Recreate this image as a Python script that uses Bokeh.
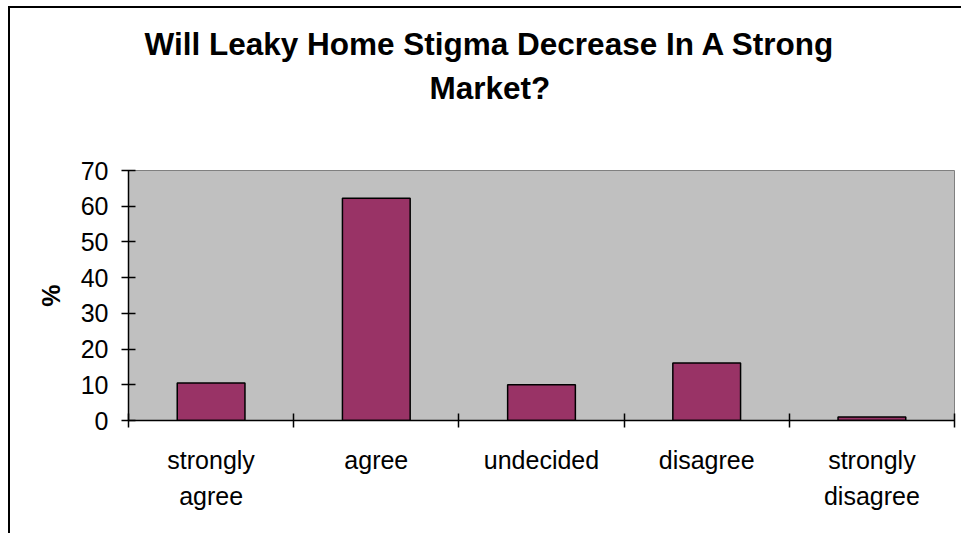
from bokeh.plotting import figure
from bokeh.models import Range1d, FixedTicker, Title
from bokeh.embed import file_html
from bokeh.resources import INLINE

# ---- data ----
categories = ["strongly\nagree", "agree", "undecided", "disagree", "strongly\ndisagree"]
values = [10.5, 62.2, 10.0, 16.1, 1.0]
y_ticks = [0, 10, 20, 30, 40, 50, 60, 70]
title_line1 = "Will Leaky Home Stigma Decrease In A Strong"
title_line2 = "Market?"
y_label = "%"

FONT = "Liberation Sans"

n = len(categories)
centers = [i + 0.5 for i in range(n)]
bounds = list(range(n + 1))

p = figure(
    output_backend="svg", toolbar_location=None,
    frame_width=826, frame_height=250,
    min_border_left=118, min_border_right=7, min_border_top=162, min_border_bottom=113,
    x_range=Range1d(0, n), y_range=Range1d(0, 70),
    title=None,
)
p.styles = {"margin-left": "8px", "margin-top": "6px",
            "border-left": "2px solid #000", "border-top": "2px solid #000"}

p.background_fill_color = "#C0C0C0"
p.border_fill_color = "#FFFFFF"
p.outline_line_color = "#808080"
p.outline_line_width = 1
p.xgrid.visible = False
p.ygrid.visible = False

p.vbar(x=centers, top=values, width=0.41, bottom=0,
       fill_color="#993366", line_color="#000000", line_width=1.5)

# x axis: ticks at category boundaries (minor), labels at centres
xa = p.xaxis[0]
xa.ticker = FixedTicker(ticks=centers, minor_ticks=bounds)
xa.major_label_overrides = {c: lab for c, lab in zip(centers, categories)}
xa.major_tick_in = 0
xa.major_tick_out = 0
xa.minor_tick_in = 7
xa.minor_tick_out = 7
xa.minor_tick_line_color = "#000000"
xa.minor_tick_line_width = 1.5
xa.axis_line_color = "#000000"
xa.axis_line_width = 1.5
xa.major_label_text_font = FONT
xa.major_label_text_font_size = "25px"
xa.major_label_text_color = "#000000"
xa.major_label_standoff = 18
xa.major_label_text_line_height = 1.32

ya = p.yaxis[0]
ya.ticker = FixedTicker(ticks=y_ticks, minor_ticks=[])
ya.major_tick_in = 7
ya.major_tick_out = 7
ya.major_tick_line_color = "#000000"
ya.major_tick_line_width = 1.5
ya.axis_line_color = "#000000"
ya.axis_line_width = 1.5
ya.major_label_text_font = FONT
ya.major_label_text_font_size = "25px"
ya.major_label_text_color = "#000000"
ya.major_label_standoff = 13
ya.axis_label = y_label
ya.axis_label_text_font = FONT
ya.axis_label_text_font_size = "25px"
ya.axis_label_text_font_style = "bold"
ya.axis_label_text_color = "#000000"
ya.axis_label_standoff = 13

title_style = dict(text_font=FONT, text_font_size="31.5px", text_font_style="bold",
                   text_color="#000000", align="left")
spacer = Title(text=" ", text_font_size="1px", standoff=59, align="left")
t2 = Title(text=title_line2, offset=301, standoff=5, **title_style)
t1 = Title(text=title_line1, offset=16, standoff=8, **title_style)
p.add_layout(spacer, "above")
p.add_layout(t2, "above")
p.add_layout(t1, "above")

open("out.html", "w").write(file_html(p, INLINE))
